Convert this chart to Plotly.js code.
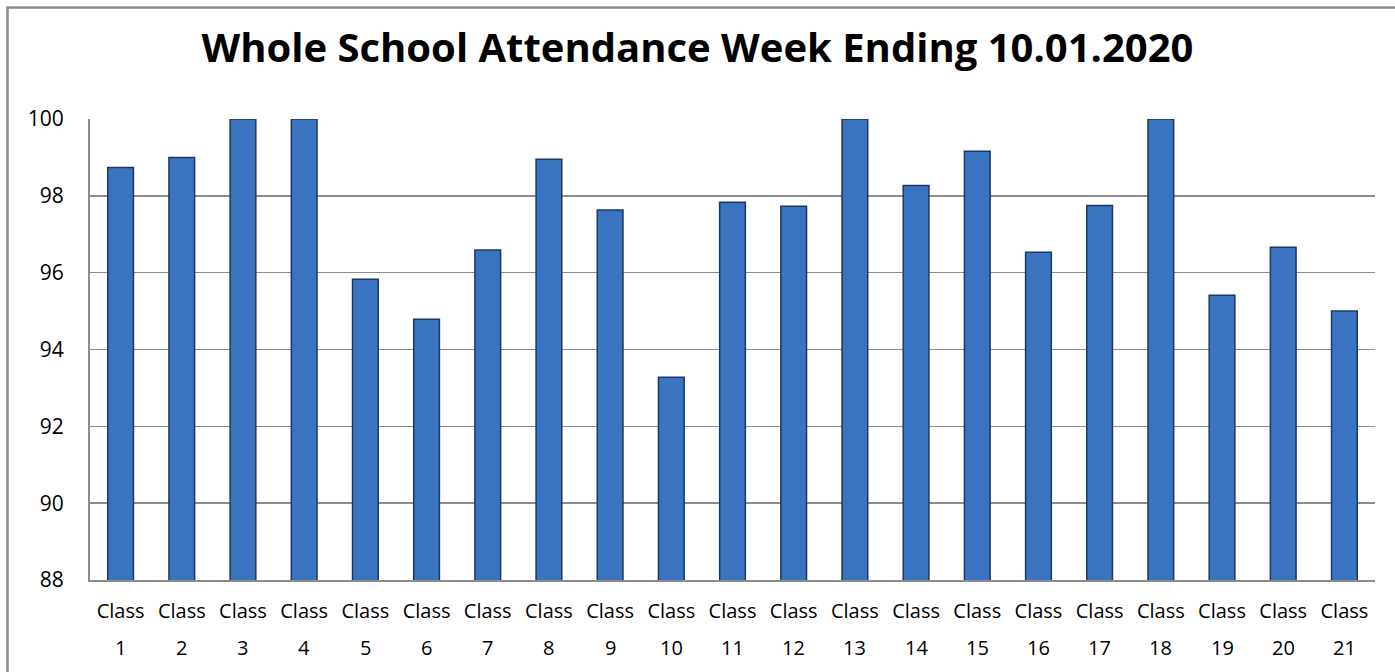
<!DOCTYPE html>
<html>
<head>
<meta charset="utf-8">
<script src="https://cdn.plot.ly/plotly-3.0.1.min.js"></script>
<style>html,body{margin:0;padding:0;background:#fff;}#chart{width:1395px;height:672px;}</style>
</head>
<body>
<div id="chart"></div>
<script>
const categories = ["Class 1","Class 2","Class 3","Class 4","Class 5","Class 6","Class 7","Class 8","Class 9","Class 10","Class 11","Class 12","Class 13","Class 14","Class 15","Class 16","Class 17","Class 18","Class 19","Class 20","Class 21"];
const labelTop = ["Class","Class","Class","Class","Class","Class","Class","Class","Class","Class","Class","Class","Class","Class","Class","Class","Class","Class","Class","Class","Class"];
const labelBottom = ["1","2","3","4","5","6","7","8","9","10","11","12","13","14","15","16","17","18","19","20","21"];
const attendance = [98.74, 99.0, 100, 100, 95.83, 94.79, 96.59, 98.95, 97.63, 93.28, 97.83, 97.73, 100, 98.27, 99.16, 96.53, 97.75, 100, 95.41, 96.66, 95.0];
const yTicks = [88, 90, 92, 94, 96, 98, 100];
const titleText = "Whole School Attendance Week Ending 10.01.2020";

const FONT = '"Open Sans", "Liberation Sans", sans-serif';

const trace = {
  type: 'bar',
  x: categories,
  y: attendance,
  marker: {color: '#3A74C0', line: {color: '#1B3860', width: 1.5}},
  hoverinfo: 'x+y'
};

const annotations = categories.map((c, i) => ({
  x: c, xref: 'x', y: -0.1475, yref: 'paper',
  text: labelBottom[i], showarrow: false,
  xanchor: 'center', yanchor: 'middle',
  font: {family: FONT, size: 20, color: '#000'}
}));

const layout = {
  width: 1395, height: 672,
  margin: {l: 90, r: 20, t: 119, b: 92},
  paper_bgcolor: '#fff', plot_bgcolor: '#fff',
  showlegend: false,
  bargap: 0.58,
  title: {
    text: '<b>' + titleText + '</b>',
    x: 0.5, xref: 'container', xanchor: 'center',
    y: 0.929, yref: 'container', yanchor: 'middle',
    font: {family: FONT, size: 40, color: '#000'}
  },
  xaxis: {
    type: 'category',
    tickmode: 'array', tickvals: categories, ticktext: labelTop,
    showgrid: false, zeroline: false,
    showline: true, linecolor: '#8c8c8c', linewidth: 2,
    ticks: '', ticklabelstandoff: 12,
    tickfont: {family: FONT, size: 20, color: '#000'},
    tickangle: 0
  },
  yaxis: {
    range: [88, 100], tickmode: 'array', tickvals: yTicks,
    showgrid: true, gridcolor: '#8c8c8c', gridwidth: 1.6,
    zeroline: false,
    showline: true, linecolor: '#8c8c8c', linewidth: 2,
    ticks: '', ticklabelstandoff: 20,
    tickfont: {family: FONT, size: 21, color: '#000'}
  },
  annotations: annotations,
  shapes: [{
    type: 'path', xref: 'paper', yref: 'paper',
    path: 'M -0.0642 -0.4 L -0.0642 1.2419 L 1.2 1.2419',
    line: {color: '#8a8a8a', width: 2.5}
  }]
};

Plotly.newPlot('chart', [trace], layout, {displayModeBar: false, staticPlot: true});
</script>
</body>
</html>
